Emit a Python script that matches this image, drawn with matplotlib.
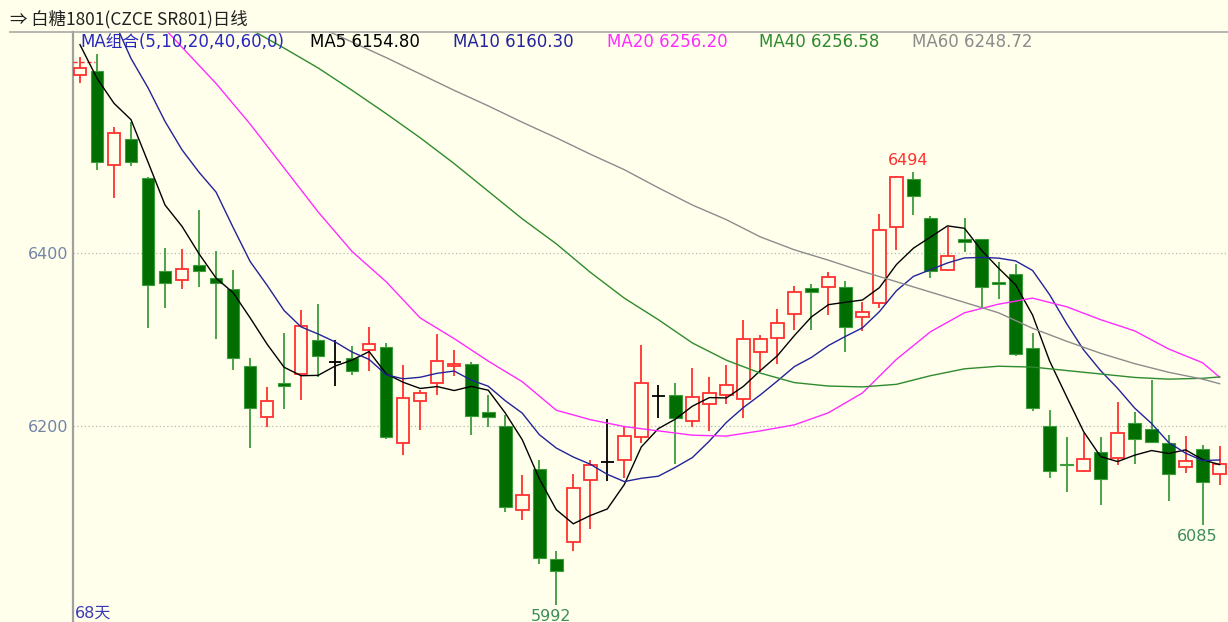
import numpy as np
import pandas as pd
import matplotlib
matplotlib.use('Agg')
import matplotlib.pyplot as plt
from matplotlib.lines import Line2D

# daily candles, 白糖1801, last 68 sessions
opens = [6607, 6612, 6502, 6533, 6487, 6379, 6369, 6386, 6371, 6359,
         6269, 6210, 6249, 6260, 6299, 6274, 6279, 6288, 6291, 6180,
         6229, 6249, 6269, 6272, 6216, 6200, 6102, 6150, 6045, 6065,
         6137, 6158, 6160, 6187, 6234, 6236, 6206, 6225, 6236, 6231,
         6285, 6302, 6330, 6360, 6361, 6361, 6326, 6342, 6430, 6486,
         6441, 6381, 6417, 6416, 6367, 6376, 6290, 6200, 6156, 6148,
         6169, 6163, 6203, 6196, 6180, 6152, 6173, 6144]
highs = [6628, 6631, 6546, 6552, 6488, 6406, 6405, 6450, 6403, 6381,
         6279, 6245, 6308, 6334, 6341, 6299, 6292, 6315, 6296, 6270,
         6241, 6306, 6288, 6274, 6236, 6212, 6143, 6160, 6055, 6144,
         6160, 6208, 6198, 6294, 6247, 6250, 6267, 6256, 6270, 6323,
         6305, 6335, 6362, 6364, 6378, 6368, 6344, 6446, 6490, 6494,
         6443, 6431, 6441, 6417, 6390, 6387, 6308, 6218, 6187, 6191,
         6187, 6227, 6216, 6253, 6189, 6188, 6178, 6176]
lows = [6597, 6497, 6464, 6501, 6313, 6336, 6359, 6361, 6300, 6265,
        6174, 6198, 6219, 6230, 6256, 6246, 6259, 6263, 6185, 6166,
        6195, 6236, 6258, 6189, 6198, 6100, 6091, 6040, 5992, 6055,
        6080, 6136, 6139, 6180, 6209, 6156, 6198, 6194, 6225, 6209,
        6262, 6272, 6311, 6311, 6328, 6285, 6310, 6337, 6404, 6444,
        6371, 6379, 6402, 6335, 6347, 6281, 6217, 6139, 6123, 6146,
        6108, 6154, 6156, 6180, 6113, 6145, 6085, 6131]
closes = [6615, 6506, 6539, 6506, 6363, 6366, 6382, 6380, 6365, 6279,
          6220, 6229, 6246, 6316, 6281, 6274, 6264, 6295, 6187, 6232,
          6238, 6275, 6272, 6211, 6210, 6106, 6120, 6046, 6031, 6128,
          6154, 6158, 6188, 6249, 6234, 6209, 6233, 6238, 6247, 6301,
          6301, 6319, 6355, 6355, 6372, 6315, 6332, 6427, 6489, 6467,
          6379, 6397, 6413, 6361, 6364, 6283, 6221, 6147, 6154, 6161,
          6138, 6192, 6184, 6181, 6144, 6159, 6135, 6155]
prev_close = 6622

# moving averages whose window reaches before the visible range
ma5_head = [6642, 6603, 6574, 6555]
ma10_head = [6730, 6700, 6670, 6626, 6592, 6553, 6520, 6494, 6471]
ma_idx = list(range(0, 68, 2)) + [67]
ma20 = [6763, 6723, 6681, 6639, 6597, 6550, 6499, 6448, 6402, 6367,
        6325, 6301, 6275, 6251, 6218, 6207, 6199, 6194, 6189, 6188,
        6194, 6201, 6215, 6238, 6277, 6309, 6331, 6341, 6348, 6338,
        6323, 6310, 6289, 6273, 6256.20]
ma40 = [6774, 6752, 6729, 6706, 6682, 6660, 6638, 6615, 6589, 6562,
        6534, 6504, 6472, 6440, 6411, 6378, 6348, 6323, 6296, 6276,
        6261, 6250, 6246, 6245, 6248, 6258, 6266, 6269, 6268, 6264,
        6260, 6256, 6254, 6255, 6256.58]
ma60 = [6787, 6769, 6752, 6734, 6717, 6698, 6680, 6663, 6645, 6627,
        6608, 6589, 6571, 6552, 6534, 6515, 6497, 6476, 6456, 6439,
        6419, 6404, 6392, 6379, 6367, 6355, 6343, 6331, 6313, 6298,
        6284, 6272, 6262, 6254, 6248.72]
y_ticks = [6200, 6400]

title = '⇒ 白糖1801(CZCE SR801)日线'
days_label = '68天'

BG = '#FFFFEC'
RED = '#FF3030'
DKGREEN = '#006E00'
LTGREEN = '#3C9C3C'
C_MA5 = '#000000'
C_MA10 = '#23239A'
C_MA20 = '#FF2CFF'
C_MA40 = '#2E8B2E'
C_MA60 = '#8C8C8C'
FONTS = ['DejaVu Sans', 'Noto Sans CJK SC']

W, H = 1228, 622


def fx(px):
    return px / W


def fy(py):
    return 1 - py / H


o = np.array(opens, dtype=float)
h = np.array(highs, dtype=float)
l = np.array(lows, dtype=float)
c = np.array(closes, dtype=float)
x = np.arange(len(c))

cs = pd.Series(c)
ma5 = np.concatenate([ma5_head, cs.rolling(5).mean().values[4:]])
ma10 = np.concatenate([ma10_head, cs.rolling(10).mean().values[9:]])

fig = plt.figure(figsize=(W / 100, H / 100), dpi=100, facecolor=BG)
ax = fig.add_axes([fx(73), 0, fx(W - 73), 1 - 32 / H])
ax.set_facecolor(BG)
ax.set_xlim(-0.41, 67.49)
ax.set_ylim(5972.3, 6656.7)

for yv in y_ticks:
    ax.axhline(yv, color='#B8B8B8', lw=0.9, ls=(0, (1, 2)), zorder=1)

bw = 0.74
up = c > o
dn = c < o
flat = c == o

ax.vlines(x[up], l[up], h[up], color=RED, lw=1.3, zorder=2)
ax.vlines(x[dn], l[dn], h[dn], color=LTGREEN, lw=1.3, zorder=2)
ax.vlines(x[flat], l[flat], h[flat], color='black', lw=1.3, zorder=2)
ax.bar(x[up], c[up] - o[up], bottom=o[up], width=bw, facecolor=BG,
       edgecolor=RED, lw=1.3, zorder=3)
ax.bar(x[dn], o[dn] - c[dn], bottom=c[dn], width=bw, facecolor=DKGREEN,
       edgecolor=LTGREEN, lw=0.8, zorder=3)
ax.hlines(o[flat], x[flat] - bw / 2, x[flat] + bw / 2, color='black', lw=1.3, zorder=3)
ax.hlines(prev_close, -0.41, 0.9, color=RED, lw=1, ls=(0, (3, 2)), zorder=3)

ax.plot(x, ma5, color=C_MA5, lw=1, zorder=4)
ax.plot(x, ma10, color=C_MA10, lw=1, zorder=4)
ax.plot(ma_idx, ma20, color=C_MA20, lw=1, zorder=4)
ax.plot(ma_idx, ma40, color=C_MA40, lw=1, zorder=4)
ax.plot(ma_idx, ma60, color=C_MA60, lw=1, zorder=4)

# marks: lowest low, highest high after it, lowest low after that
imin = int(np.argmin(l))
imax = imin + int(np.argmax(h[imin:]))
ilow2 = imax + int(np.argmin(l[imax:]))
ax.annotate(f'{int(h[imax])}', xy=(imax, h[imax]), xytext=(-4, 3),
            textcoords='offset points', ha='center', va='bottom',
            color=RED, fontsize=11.5, family=FONTS, annotation_clip=False)
for i in (imin, ilow2):
    ax.annotate(f'{int(l[i])}', xy=(i, l[i]), xytext=(-4, -3),
                textcoords='offset points', ha='center', va='top',
                color='#3C8C5C', fontsize=11.5, family=FONTS, annotation_clip=False)

ax.set_xticks([])
ax.set_yticks(y_ticks)
ax.set_yticklabels([str(v) for v in y_ticks], color='#7384A8', fontsize=11.5, family=FONTS)
ax.tick_params(axis='y', length=0, pad=3)
for s in ('top', 'right', 'bottom'):
    ax.spines[s].set_visible(False)
ax.spines['left'].set_color('#A0A0A0')
ax.spines['left'].set_linewidth(1.6)

fig.add_artist(Line2D([fx(10), 1], [fy(32), fy(32)], color='#A8A8A8', lw=1.2))
fig.text(fx(10), fy(19), title, fontsize=12.5, va='center', ha='left',
         family=['Noto Sans CJK SC', 'DejaVu Sans'], color='#202020')

legend = [
    (80, 'MA组合(5,10,20,40,60,0)', '#2828C0'),
    (310, f'MA5 {ma5[-1]:.2f}', C_MA5),
    (453, f'MA10 {ma10[-1]:.2f}', C_MA10),
    (607, f'MA20 {ma20[-1]:.2f}', C_MA20),
    (759, f'MA40 {ma40[-1]:.2f}', C_MA40),
    (912, f'MA60 {ma60[-1]:.2f}', C_MA60),
]
for px, txt, col in legend:
    fig.text(fx(px), fy(42), txt, fontsize=12, va='center', ha='left',
             family=FONTS, color=col)

fig.text(fx(75), fy(613), days_label, fontsize=11.5, va='center', ha='left',
         family=FONTS, color='#3A3AB8')

fig.savefig('out.png', dpi=100, facecolor=BG)
